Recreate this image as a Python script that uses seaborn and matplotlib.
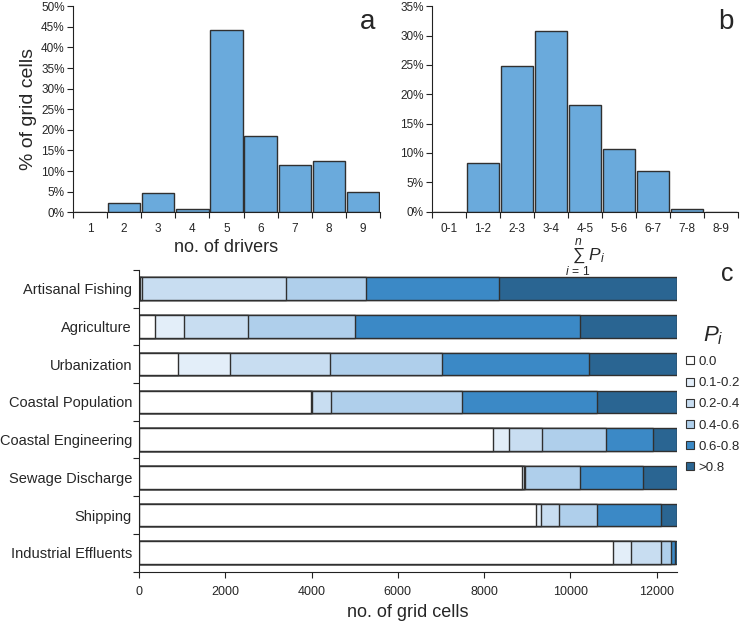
import numpy as np
import pandas as pd
import matplotlib
matplotlib.use("Agg")
import matplotlib.pyplot as plt
from matplotlib.lines import Line2D
import seaborn as sns

# ---------------- data ----------------
driver_labels = ["1", "2", "3", "4", "5", "6", "7", "8", "9"]
driver_pct = [0.0, 2.35, 4.6, 0.9, 44.3, 18.6, 11.4, 12.4, 5.0]

sum_labels = ["0-1", "1-2", "2-3", "3-4", "4-5", "5-6", "6-7", "7-8", "8-9"]
sum_pct = [0.0, 8.35, 24.8, 30.7, 18.1, 10.7, 7.0, 0.45, 0.0]

drivers = ["Artisanal Fishing", "Agriculture", "Urbanization", "Coastal Population",
           "Coastal Engineering", "Sewage Discharge", "Shipping", "Industrial Effluents"]
classes = ["0.0", "0.1-0.2", "0.2-0.4", "0.4-0.6", "0.6-0.8", ">0.8"]
p_00 = [30, 378, 912, 3994, 8213, 8885, 9210, 10995]
p_01_02 = [30, 672, 1197, 10, 371, 40, 116, 417]
p_02_04 = [3340, 1484, 2311, 454, 765, 30, 410, 681]
p_04_06 = [1855, 2481, 2611, 3037, 1483, 1275, 888, 247]
p_06_08 = [3097, 5215, 3407, 3114, 1090, 1460, 1469, 85]
p_gt_08 = [4108, 2230, 2022, 1851, 538, 770, 367, 35]

class_colors = ["#ffffff", "#e3eef9", "#c8ddf1", "#afcfeb", "#3b89c6", "#2a6592"]
hist_color = "#6aaadc"

# ---------------- style ----------------
sns.set_style("ticks")
plt.rcParams["font.family"] = ["Liberation Sans", "DejaVu Sans"]
plt.rcParams["mathtext.fontset"] = "custom"
plt.rcParams["mathtext.it"] = "Liberation Sans:italic"
plt.rcParams["mathtext.rm"] = "Liberation Sans"

fig = plt.figure(figsize=(7.5, 6.26), dpi=100)
ax_c = fig.add_axes([0.1853, 0.0868, 0.7167, 0.4822])
ax_a = fig.add_axes([0.0973, 0.661, 0.4094, 0.329])
ax_b = fig.add_axes([0.576, 0.662, 0.408, 0.328])

edge = "#303030"

def hist_panel(ax, labels, vals, ymax, letter, xlabel, ylabel=None):
    df = pd.DataFrame({"cat": labels, "val": vals})
    sns.barplot(data=df, x="cat", y="val", color=hist_color, edgecolor=edge,
                linewidth=1.0, width=0.95, saturation=1, ax=ax)
    ax.set_xlim(-0.5, len(labels) - 0.5)
    ax.set_ylim(0, ymax)
    ax.set_yticks(np.arange(0, ymax + 0.1, 5))
    ax.set_yticklabels([f"{int(v)}%" for v in np.arange(0, ymax + 0.1, 5)], fontsize=8.5)
    ax.set_xticks(np.arange(-0.5, len(labels), 1))
    ax.set_xticklabels([])
    ax.set_xticks(np.arange(len(labels)), minor=True)
    ax.set_xticklabels(labels, minor=True, fontsize=8.5)
    ax.tick_params(axis="x", which="minor", length=0, pad=8)
    ax.tick_params(axis="x", which="major", length=4, direction="out", color="#222222")
    ax.tick_params(axis="y", length=4, direction="out", color="#222222", pad=2)
    for s in ["top", "right"]:
        ax.spines[s].set_visible(False)
    ax.spines["left"].set_color("#222222")
    ax.spines["bottom"].set_color("#222222")
    ax.set_xlabel(xlabel, fontsize=13, labelpad=3)
    if ylabel:
        ax.set_ylabel(ylabel, fontsize=14, labelpad=3)
    else:
        ax.set_ylabel("")
    ax.patch.set_alpha(0)
    ax.text(0.985, 0.985, letter, transform=ax.transAxes, ha="right", va="top", fontsize=20)

hist_panel(ax_a, driver_labels, driver_pct, 50, "a", "no. of drivers", "% of grid cells")
hist_panel(ax_b, sum_labels, sum_pct, 35, "b", r"$\sum_{i\,=\,1}^{n}P_i$")
ax_b.xaxis.label.set_size(12.5)
ax_b.xaxis.set_label_coords(0.5, -0.12)

# ---------------- panel c: stacked horizontal bars ----------------
layers = [p_00, p_01_02, p_02_04, p_04_06, p_06_08, p_gt_08]
cum = np.cumsum(np.array(layers, dtype=float), axis=0)
for k in range(len(layers) - 1, -1, -1):
    df = pd.DataFrame({"driver": drivers, "cells": cum[k]})
    sns.barplot(data=df, y="driver", x="cells", orient="h", color=class_colors[k],
                edgecolor=edge, linewidth=1.0, width=0.6, saturation=1, ax=ax_c)

total = cum[-1].max()
ax_c.patch.set_alpha(0)
ax_c.set_xlim(0, total)
ax_c.set_ylim(len(drivers) - 0.5, -0.5)
ax_c.set_xticks(np.arange(0, 12001, 2000))
ax_c.set_xticklabels([str(v) for v in range(0, 12001, 2000)], fontsize=9)
ax_c.set_yticks(np.arange(-0.5, len(drivers), 1))
ax_c.set_yticklabels([])
ax_c.set_yticks(np.arange(len(drivers)), minor=True)
ax_c.set_yticklabels(drivers, minor=True, fontsize=10.5)
ax_c.tick_params(axis="y", which="minor", length=0, pad=5)
ax_c.tick_params(axis="y", which="major", length=4, direction="out", color="#222222")
ax_c.tick_params(axis="x", length=4, direction="out", color="#222222", pad=6)
for s in ["top", "right"]:
    ax_c.spines[s].set_visible(False)
ax_c.spines["left"].set_color("#222222")
ax_c.spines["bottom"].set_color("#222222")
ax_c.set_ylabel("")
ax_c.set_xlabel("no. of grid cells", fontsize=13, labelpad=5)
fig.text(0.969, 0.562, "c", fontsize=18, ha="center", va="center")

handles = [Line2D([0], [0], marker="s", linestyle="none", markersize=6,
                  markerfacecolor=c, markeredgecolor="#333333", markeredgewidth=0.8)
           for c in class_colors]
leg = fig.legend(handles, classes, loc="upper left", bbox_to_anchor=(0.915, 0.482),
                 frameon=False, fontsize=9.5, title=r"$P_i$", title_fontsize=16,
                 handlelength=0.5, handletextpad=0.45, labelspacing=0.68,
                 borderaxespad=0, borderpad=0)

fig.savefig("out.png", dpi=100)
